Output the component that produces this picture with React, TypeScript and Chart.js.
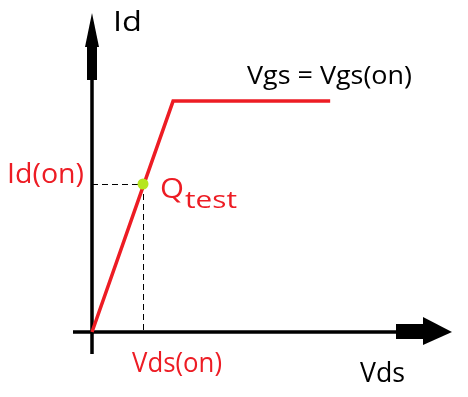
import React, { useEffect, useRef } from "react";
import { Chart, registerables } from "chart.js";

Chart.register(...registerables);

// Data (normalized units: Q point at Vds(on)=1, Id(on)=1)
const vdsValues = [0, 1.59, 4.67];
const idValues = [0, 1.56, 1.56];
const qVds = [1];
const qId = [1];
const labels = {
  yAxis: "Id",
  xAxis: "Vds",
  curve: "Vgs = Vgs(on)",
  idOn: "Id(on)",
  vdsOn: "Vds(on)",
  q: "Q",
  qSub: "test",
};

const FONT = '"Open Sans", "DejaVu Sans", sans-serif';
const RED = "#ED1C24";

function fitText(ctx: CanvasRenderingContext2D, text: string, x: number, y: number, size: number, width: number) {
  ctx.font = `${size}px ${FONT}`;
  const w = ctx.measureText(text).width || 1;
  ctx.save();
  ctx.translate(x, y);
  ctx.scale(width / w, 1);
  ctx.fillText(text, 0, 0);
  ctx.restore();
}

const diagramPlugin = {
  id: "diagram",
  beforeDatasetsDraw(chart: any) {
    const ctx = chart.ctx;
    const xs = chart.scales.x;
    const ys = chart.scales.y;
    const ox = xs.getPixelForValue(0);
    const oy = ys.getPixelForValue(0);
    const qx = xs.getPixelForValue(qVds[0]);
    const qy = ys.getPixelForValue(qId[0]);
    ctx.save();
    // dashed guides
    ctx.strokeStyle = "#000";
    ctx.lineWidth = 1;
    ctx.setLineDash([6, 4]);
    ctx.beginPath();
    ctx.moveTo(ox, qy + 0.5);
    ctx.lineTo(qx, qy + 0.5);
    ctx.moveTo(qx + 0.5, qy);
    ctx.lineTo(qx + 0.5, oy);
    ctx.stroke();
    ctx.setLineDash([]);
    // axes thin lines
    ctx.lineWidth = 3.5;
    ctx.beginPath();
    ctx.moveTo(ox, oy + 22);
    ctx.lineTo(ox, 60);
    ctx.moveTo(ox - 19, oy);
    ctx.lineTo(400, oy);
    ctx.stroke();
    ctx.fillStyle = "#000";
    // y arrow
    ctx.fillRect(ox - 5, 42, 10, 38);
    ctx.beginPath();
    ctx.moveTo(ox, 13);
    ctx.lineTo(ox + 7, 47);
    ctx.lineTo(ox - 7, 47);
    ctx.closePath();
    ctx.fill();
    // x arrow
    ctx.fillRect(396, oy - 8, 30, 15);
    ctx.beginPath();
    ctx.moveTo(452, oy);
    ctx.lineTo(423, oy - 15);
    ctx.lineTo(423, oy + 13);
    ctx.closePath();
    ctx.fill();
    ctx.restore();
  },
  afterDraw(chart: any) {
    const ctx = chart.ctx;
    const xs = chart.scales.x;
    const ys = chart.scales.y;
    const ox = xs.getPixelForValue(0);
    const oy = ys.getPixelForValue(0);
    const qx = xs.getPixelForValue(qVds[0]);
    const qy = ys.getPixelForValue(qId[0]);
    const ky = ys.getPixelForValue(idValues[1]);
    ctx.save();
    ctx.textBaseline = "alphabetic";
    ctx.textAlign = "left";
    ctx.fillStyle = "#000";
    fitText(ctx, labels.yAxis, ox + 21, 31, 28, 29);
    fitText(ctx, labels.curve, 247, ky - 17, 26, 165);
    fitText(ctx, labels.xAxis, 360, oy + 50, 27, 45);
    ctx.fillStyle = RED;
    fitText(ctx, labels.idOn, 7, qy - 1, 28, 77);
    fitText(ctx, labels.vdsOn, qx - 11, oy + 40, 27, 90);
    fitText(ctx, labels.q, qx + 17, qy + 14, 28, 24);
    fitText(ctx, labels.qSub, qx + 42, qy + 24, 24, 52);
    ctx.restore();
  },
};

export default function App() {
  const ref = useRef<HTMLCanvasElement | null>(null);
  useEffect(() => {
    if (!ref.current) return;
    const chart = new Chart(ref.current, {
      type: "scatter",
      data: {
        datasets: [
          {
            label: "Id",
            data: vdsValues.map((v, i) => ({ x: v, y: idValues[i] })),
            showLine: true,
            borderColor: RED,
            borderWidth: 3.5,
            pointRadius: 0,
            fill: false,
            order: 2,
          },
          {
            label: "Q",
            data: qVds.map((v, i) => ({ x: v, y: qId[i] })),
            pointRadius: 5.5,
            pointBackgroundColor: "#B5E61D",
            pointBorderWidth: 0,
            borderColor: "#B5E61D",
            order: 1,
          },
        ],
      },
      options: {
        animation: false,
        responsive: false,
        maintainAspectRatio: false,
        layout: { padding: 0, autoPadding: false },
        plugins: { legend: { display: false }, tooltip: { enabled: false }, title: { display: false } },
        scales: {
          x: { type: "linear", display: false, min: -92 / 51, max: 376 / 51 },
          y: { type: "linear", display: false, min: -65 / 148, max: 332 / 148 },
        },
      },
      plugins: [diagramPlugin],
    });
    return () => chart.destroy();
  }, []);
  return (
    <div style={{ position: "absolute", left: 0, top: 0, width: 468, height: 397, background: "#fff" }}>
      <canvas ref={ref} width={468} height={397} style={{ width: 468, height: 397, display: "block" }} />
    </div>
  );
}
